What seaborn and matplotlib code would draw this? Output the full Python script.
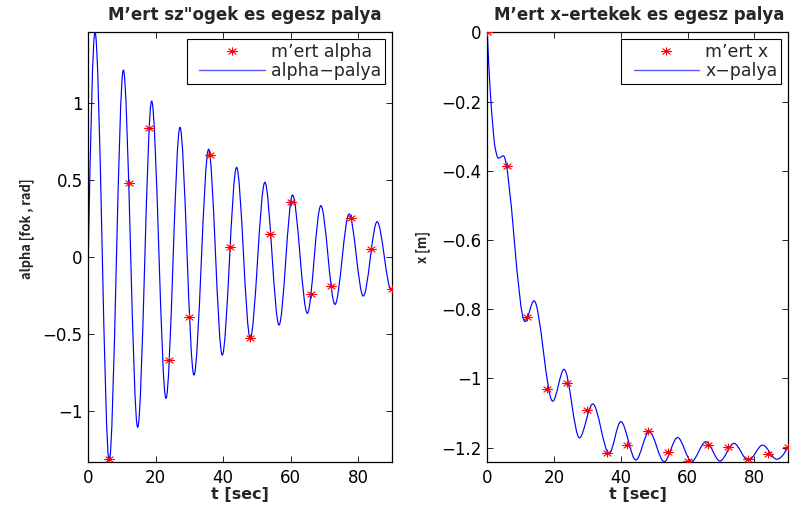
import numpy as np
import pandas as pd
import matplotlib
matplotlib.use("Agg")
import matplotlib.pyplot as plt
import seaborn as sns
from matplotlib.path import Path
from matplotlib.patches import PathPatch
from matplotlib.lines import Line2D
from matplotlib.legend_handler import HandlerLine2D
from matplotlib.ticker import FixedLocator, FuncFormatter

# ---- measured samples -------------------------------------------------
t_meas_alpha = [6, 12, 18, 24, 30, 36, 42, 48, 54, 60, 66, 72, 78, 84, 90]
alpha_meas = [-1.313, 0.477, 0.834, -0.669, -0.392, 0.661, 0.062, -0.529,
              0.146, 0.354, -0.241, -0.187, 0.254, 0.049, -0.211]

t_meas_x = [0, 6, 12, 18, 24, 30, 36, 42, 48, 54, 60, 66, 72, 78, 84, 90]
x_meas = [0.0, -0.386, -0.822, -1.032, -1.014, -1.092, -1.215, -1.193,
          -1.152, -1.214, -1.239, -1.193, -1.198, -1.234, -1.219, -1.198]

# ---- full trajectories: turning points of the simulated paths ----------
t_alpha_path = [0, 2.0, 6.2, 10.4, 14.65, 18.8, 23.05, 27.2, 31.35, 35.7,
                39.75, 44.0, 48.05, 52.4, 56.6, 60.6, 65.0, 69.0, 73.2,
                77.4, 81.6, 85.7, 89.9, 90.0]
alpha_path = [0.0, 1.457, -1.329, 1.212, -1.106, 1.011, -0.918, 0.840,
              -0.766, 0.698, -0.637, 0.581, -0.528, 0.484, -0.442, 0.401,
              -0.366, 0.332, -0.308, 0.278, -0.254, 0.228, -0.215, -0.215]

t_x_path = [0, 0.8, 1.5, 2.3, 3.3, 4.8, 11.3, 14.0, 19.6, 23.0, 27.6, 31.6,
            36.5, 40.0, 44.5, 48.5, 53.0, 57.0, 61.2, 65.5, 69.7, 73.9,
            78.2, 82.5, 86.7, 90.0]
x_path = [0.0, -0.157, -0.253, -0.331, -0.364, -0.357, -0.836, -0.776,
          -1.066, -0.974, -1.172, -1.074, -1.217, -1.125, -1.236, -1.154,
          -1.241, -1.171, -1.240, -1.183, -1.239, -1.188, -1.238, -1.193,
          -1.234, -1.199]

alpha_ticks = [-1, -0.5, 0, 0.5, 1]
x_ticks = [-1.2, -1.0, -0.8, -0.6, -0.4, -0.2, 0]
t_ticks = [0, 20, 40, 60, 80]


def hermite_slopes(t, y):
    """Shape-preserving (Fritsch-Carlson) tangents at the given points."""
    t = np.asarray(t, float)
    y = np.asarray(y, float)
    h = np.diff(t)
    d = np.diff(y) / h
    m = np.zeros_like(y)
    for k in range(1, len(y) - 1):
        if d[k - 1] * d[k] > 0:
            w1 = 2 * h[k] + h[k - 1]
            w2 = h[k] + 2 * h[k - 1]
            m[k] = (w1 + w2) / (w1 / d[k - 1] + w2 / d[k])

    def end(h0, h1, d0, d1):
        s = ((2 * h0 + h1) * d0 - h0 * d1) / (h0 + h1)
        if np.sign(s) != np.sign(d0):
            return 0.0
        if np.sign(d0) != np.sign(d1) and abs(s) > abs(3 * d0):
            return 3 * d0
        return s

    m[0] = end(h[0], h[1], d[0], d[1])
    m[-1] = end(h[-1], h[-2], d[-1], d[-2])
    return t, y, m


def smooth_path(t, y):
    """Cubic Bezier path through the points with smooth tangents."""
    t, y, m = hermite_slopes(t, y)
    verts = [(t[0], y[0])]
    codes = [Path.MOVETO]
    for k in range(len(t) - 1):
        h = (t[k + 1] - t[k]) / 3.0
        verts += [(t[k] + h, y[k] + m[k] * h),
                  (t[k + 1] - h, y[k + 1] - m[k + 1] * h),
                  (t[k + 1], y[k + 1])]
        codes += [Path.CURVE4] * 3
    return Path(verts, codes)


# asterisk marker, slightly wider than tall
_w, _hgt = 1.35, 1.0
star = Path(
    [(-_w, 0), (_w, 0), (0, -_hgt), (0, _hgt),
     (-_w * 0.72, -_hgt * 0.72), (_w * 0.72, _hgt * 0.72),
     (-_w * 0.72, _hgt * 0.72), (_w * 0.72, -_hgt * 0.72)],
    [Path.MOVETO, Path.LINETO] * 4)

sns.set_style("ticks")
plt.rcParams.update({
    "font.family": ["DejaVu Sans"],
    "axes.edgecolor": "black",
    "axes.linewidth": 0.9,
    "xtick.direction": "in",
    "ytick.direction": "in",
    "xtick.top": True,
    "ytick.right": True,
    "xtick.color": "black",
    "ytick.color": "black",
})

W, H = 794, 507
fig = plt.figure(figsize=(W / 100, H / 100), dpi=100)
ax1 = fig.add_axes([88.3 / W, 1 - 461.7 / H, (391.6 - 88.3) / W, (461.7 - 32.3) / H])
ax2 = fig.add_axes([487.3 / W, 1 - 461.7 / H, (787.7 - 487.3) / W, (461.7 - 32.3) / H])

fmt = FuncFormatter(lambda v, p: ("%g" % v).replace("-", "\u2212"))
LEG_FS = 12.5

panels = [
    (ax1, t_alpha_path, alpha_path, t_meas_alpha, alpha_meas,
     (-1.329, 1.457), alpha_ticks, "M\u2019ert sz\"ogek es egesz palya", 0.517,
     "alpha [fok , rad]", -0.18, 0.542, "m\u2019ert alpha", "alpha\u2212palya"),
    (ax2, t_x_path, x_path, t_meas_x, x_meas,
     (-1.241, 0.0), x_ticks, "M\u2019ert x\u2013ertekek es egesz palya", 0.505,
     "x [m]", -0.19, 0.5, "m\u2019ert x", "x\u2212palya"),
]

for (ax, tp, yp, tm, ym, ylim, yt, title, tx, ylab, lx, ly,
     lab_m, lab_l) in panels:
    ax.add_patch(PathPatch(smooth_path(tp, yp), facecolor="none",
                           edgecolor="blue", lw=0.85, zorder=2))
    df = pd.DataFrame({"t": tm, "v": ym})
    sns.scatterplot(data=df, x="t", y="v", ax=ax, marker=star, color="red",
                    edgecolor="red", linewidth=0.8, s=60, zorder=3,
                    legend=False)
    ax.set_xlim(0, 90)
    ax.set_ylim(*ylim)
    ax.xaxis.set_major_locator(FixedLocator(t_ticks))
    ax.yaxis.set_major_locator(FixedLocator(yt))
    ax.xaxis.set_major_formatter(fmt)
    ax.yaxis.set_major_formatter(fmt)
    ax.tick_params(axis="both", labelsize=12, length=4, width=0.6)
    ax.tick_params(axis="x", pad=5)
    ax.tick_params(axis="y", pad=4)
    ax.set_title(title, fontsize=12, fontweight="bold", pad=9, x=tx)
    ax.set_xlabel("t [sec]", fontsize=11.5, fontweight="bold", labelpad=0)
    ax.set_ylabel(ylab, fontsize=9.3, fontweight="bold",
                  family=["Noto Sans CJK SC", "Liberation Sans"])
    ax.yaxis.set_label_coords(lx, ly)
    for sp in ax.spines.values():
        sp.set_visible(True)

    handles = [
        Line2D([], [], ls="none", marker=star, color="red", mec="red",
               markersize=8, mew=0.8),
        Line2D([], [], color="#5a5aff", lw=1.0),
    ]
    leg = ax.legend(handles, [lab_m, lab_l], loc="upper right",
                    fontsize=LEG_FS, handlelength=4.27, handletextpad=0.35,
                    labelspacing=0.1, borderpad=0.22, borderaxespad=0.38,
                    fancybox=False, framealpha=1, edgecolor="black",
                    handler_map={Line2D: HandlerLine2D(xpad=0.5)})
    leg.get_frame().set_linewidth(0.8)

fig.savefig("out.png", dpi=100)
